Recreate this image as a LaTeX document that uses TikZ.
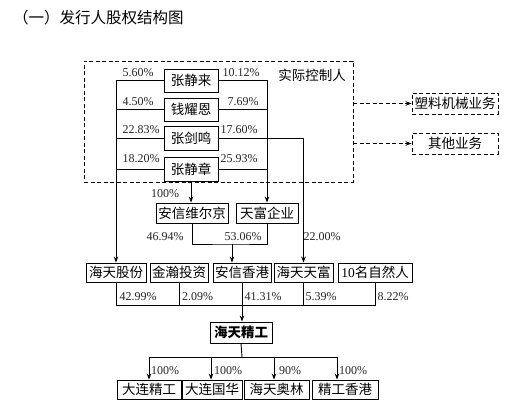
\documentclass[tikz,border=0pt]{standalone}
\usepackage{fontspec}
\setmainfont{Liberation Serif}
\newfontfamily\cjk{Noto Sans CJK SC}
\usetikzlibrary{arrows.meta}

\begin{document}
\begin{tikzpicture}[x=1pt,y=-1pt,
    box/.style={draw,line width=0.9pt,inner sep=0pt,minimum height=20,font=\cjk\fontsize{13.5}{14}\selectfont},
    dbox/.style={box,dash pattern=on 4pt off 2.5pt},
    pct/.style={inner sep=0pt,text=black!85,font=\fontsize{12}{12}\selectfont},
    ln/.style={line width=0.9pt},
    arr/.style={ln,-{Stealth[length=6pt,width=4.5pt]}},
    darr/.style={arr,dash pattern=on 4pt off 2.5pt}]
    \useasboundingbox (0,0) rectangle (515,419);
    \node[anchor=west,inner sep=0pt,font=\cjk\fontsize{15.5}{16}\selectfont] (title) at (13,18) {（一）发行人股权结构图};

    % actual controllers
    \node[ln,draw,dash pattern=on 4pt off 2.5pt,minimum width=269,minimum height=121,inner sep=0pt] (ctrl) at (218.5,121.5) {};
    \node[inner sep=0pt,font=\cjk\fontsize{13.5}{14}\selectfont] (ctrltxt) at (312,75) {实际控制人};
    \node[box,minimum width=54,minimum height=23] (zjl) at (191,80.5) {张静来};
    \node[box,minimum width=54,minimum height=23] (qye) at (191,109.5) {钱耀恩};
    \node[box,minimum width=54,minimum height=24] (zjm) at (191,138.5) {张剑鸣};
    \node[box,minimum width=54,minimum height=24] (zjz) at (191,169) {张静章};

    \node[dbox,minimum width=86,minimum height=21] (sljx) at (455,103.5) {塑料机械业务};
    \node[dbox,minimum width=86,minimum height=21] (qtyw) at (455,143.5) {其他业务};
    \draw[darr] (ctrl.east |- sljx.west) -- (sljx.west);
    \draw[darr] (ctrl.east |- qtyw.west) -- (qtyw.west);

    % holding companies
    \node[box,minimum width=72] (axw) at (192,213) {安信维尔京};
    \node[box,minimum width=62] (tfqy) at (267,213) {天富企业};

    \node[box,minimum width=60,minimum height=19] (htgf) at (116,272.5) {海天股份};
    \node[box,minimum width=58,minimum height=19] (jhtz) at (179,272.5) {金瀚投资};
    \node[box,minimum width=58,minimum height=19] (axhk) at (242,272.5) {安信香港};
    \node[box,minimum width=59,minimum height=19] (httf) at (303.5,272.5) {海天天富};
    \node[box,minimum width=74,minimum height=19] (zrr) at (375,272.5) {{\normalfont 10}名自然人};

    \node[box,font=\cjk\bfseries\fontsize{13.5}{14}\selectfont,minimum width=62,minimum height=21] (htjg) at (241,332.5) {海天精工};

    \node[box,minimum width=64,minimum height=19] (dljg) at (149,389.5) {大连精工};
    \node[box,minimum width=60,minimum height=19] (dlgh) at (212,389.5) {大连国华};
    \node[box,minimum width=65,minimum height=19] (htal) at (276.5,389.5) {海天奥林};
    \node[box,minimum width=66,minimum height=19] (jghk) at (345,389.5) {精工香港};

    % shares of the controllers
    \draw[arr] (zjl.west) -| (htgf.north);
    \draw[ln] (qye.west) -- (qye.west -| htgf.north);
    \draw[ln] (zjm.west) -- (zjm.west -| htgf.north);
    \draw[ln] (zjz.west) -- (zjz.west -| htgf.north);
    \draw[arr] (zjl.east) -| (tfqy.north);
    \draw[ln] (qye.east) -- (qye.east -| tfqy.north);
    \draw[ln] (zjz.east) -- (zjz.east -| tfqy.north);
    \draw[arr] (zjm.east) -| (httf.north);
    \draw[arr] (zjz.south) -- (zjz.south |- axw.north);

    \coordinate (mg) at (232,244);
    \draw[ln] (axw.south) |- (mg) -| (tfqy.south);
    \draw[arr] (mg) -- (mg |- axhk.north);

    % shareholders of the issuer
    \coordinate (bus) at (242,305);
    \draw[ln] (htgf.south) -- (htgf.south |- bus) -- (zrr.south |- bus) -- (zrr.south);
    \foreach \n in {jhtz,axhk,httf}
        \draw[ln] (\n.south) -- (\n.south |- bus);
    \draw[arr] (bus) -- (bus |- htjg.north);

    % subsidiaries
    \coordinate (sb) at (242,357);
    \coordinate (t1) at (149,357);
    \coordinate (t2) at (211,357);
    \coordinate (t3) at (274,357);
    \coordinate (t4) at (337,357);
    \draw[ln] (htjg.south) -- (sb);
    \draw[ln] (t1) -- (t4);
    \draw[arr] (t1) -- (t1 |- dljg.north);
    \draw[arr] (t2) -- (t2 |- dlgh.north);
    \draw[arr] (t3) -- (t3 |- htal.north);
    \draw[arr] (t4) -- (t4 |- jghk.north);

    % percentages
    \node[pct] (p1) at (138,73) {5.60\%};
    \node[pct] (p2) at (241,73) {10.12\%};
    \node[pct] (p3) at (138,102) {4.50\%};
    \node[pct] (p4) at (243,102) {7.69\%};
    \node[pct] (p5) at (141,130) {22.83\%};
    \node[pct] (p6) at (239,130) {17.60\%};
    \node[pct] (p7) at (141,159) {18.20\%};
    \node[pct] (p8) at (239,159) {25.93\%};
    \node[pct] (p9) at (165,194) {100\%};
    \node[pct] (p10) at (165,237) {46.94\%};
    \node[pct] (p11) at (243,237) {53.06\%};
    \node[pct] (p12) at (322,237) {22.00\%};
    \node[pct] (p13) at (138,297) {42.99\%};
    \node[pct] (p14) at (197.5,297) {2.09\%};
    \node[pct] (p15) at (263,297) {41.31\%};
    \node[pct] (p16) at (321,297) {5.39\%};
    \node[pct] (p17) at (393,297) {8.22\%};
    \node[pct] (p18) at (165,371) {100\%};
    \node[pct] (p19) at (228,371) {100\%};
    \node[pct] (p20) at (290,371) {90\%};
    \node[pct] (p21) at (353,371) {100\%};
\end{tikzpicture}
\end{document}
